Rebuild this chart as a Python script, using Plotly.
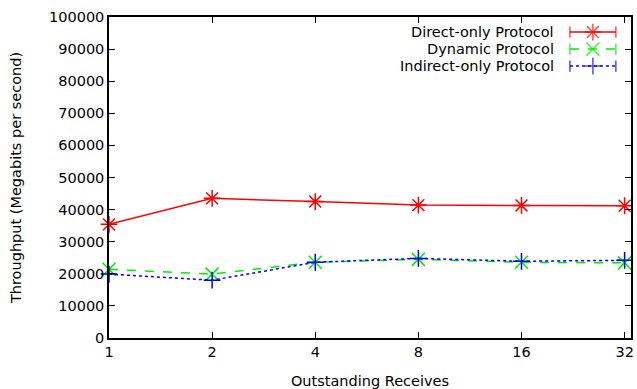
import math
import plotly.graph_objects as go

x_vals = [1, 2, 4, 8, 16, 32]
x_tick_labels = ["1", "2", "4", "8", "16", "32"]
direct_only = [35400, 43500, 42500, 41400, 41300, 41200]
dynamic = [21400, 19900, 23600, 24500, 23600, 23400]
indirect_only = [19900, 18000, 23600, 24800, 23900, 24200]
y_ticks = list(range(0, 100001, 10000))

series = [
    ("Direct-only Protocol", direct_only, "#ff0000", "solid", "asterisk-open", 14),
    ("Dynamic Protocol", dynamic, "#00ee00", "dash", "x-thin-open", 13),
    ("Indirect-only Protocol", indirect_only, "#0000ff", "dot", "cross-thin-open", 12),
]

FONT = "DejaVu Sans"
FS = 14.5
fig = go.Figure()

for name, vals, color, dash, sym, size in series:
    fig.add_trace(go.Scatter(
        x=x_vals, y=vals, mode="lines+markers", name=name,
        line=dict(color=color, width=1.5, dash=dash),
        marker=dict(symbol=sym, size=size, color=color, line=dict(color=color, width=1.5)),
        showlegend=False, cliponaxis=False,
    ))

# gnuplot-style key: text on the left, sample on the right
rows_y = [0.953, 0.900, 0.847]
for (name, vals, color, dash, sym, size), ry in zip(series, rows_y):
    fig.add_annotation(
        x=0.856, y=ry, xref="paper", yref="paper", text=name, showarrow=False,
        xanchor="right", yanchor="middle", font=dict(family=FONT, size=FS, color="#000000"),
    )
    fig.add_trace(go.Scatter(
        x=[0.883, 0.927, 0.971], y=[ry, ry, ry], xaxis="x2", yaxis="y2",
        mode="lines+markers", showlegend=False, hoverinfo="skip",
        line=dict(color=color, width=1.5, dash=dash),
        marker=dict(symbol=["line-ns-open", sym, "line-ns-open"], size=[8, size, 8],
                    color=color, line=dict(color=color, width=1.5)),
        cliponaxis=False,
    ))

fig.update_layout(
    width=637, height=389,
    margin=dict(l=109, r=6, t=17, b=51, autoexpand=False),
    paper_bgcolor="white", plot_bgcolor="white",
    font=dict(family=FONT, size=FS, color="#000000"),
    xaxis=dict(
        type="log", range=[0, math.log10(33.4)], automargin=False,
        tickvals=x_vals, ticktext=x_tick_labels,
        ticks="inside", ticklen=6, tickcolor="#000000",
        showline=True, linecolor="#000000", linewidth=1.5, mirror="allticks",
        showgrid=False, zeroline=False,
        title=dict(text="Outstanding Receives", standoff=17, font=dict(size=FS)),
    ),
    yaxis=dict(
        range=[0, 100000], tickvals=y_ticks, tickformat="d", automargin=False,
        ticks="inside", ticklen=6, tickcolor="#000000",
        showline=True, linecolor="#000000", linewidth=1.5, mirror="allticks",
        showgrid=False, zeroline=False,
        title=dict(text="Throughput (Megabits per second)", standoff=24, font=dict(size=FS)),
    ),
    xaxis2=dict(range=[0, 1], domain=[0, 1], overlaying="x", visible=False, fixedrange=True),
    yaxis2=dict(range=[0, 1], domain=[0, 1], overlaying="y", visible=False, fixedrange=True),
)

fig.write_html(
    "out.html",
    config={"displayModeBar": False},
    post_script="document.body.style.margin='0';document.body.style.padding='0';",
)
